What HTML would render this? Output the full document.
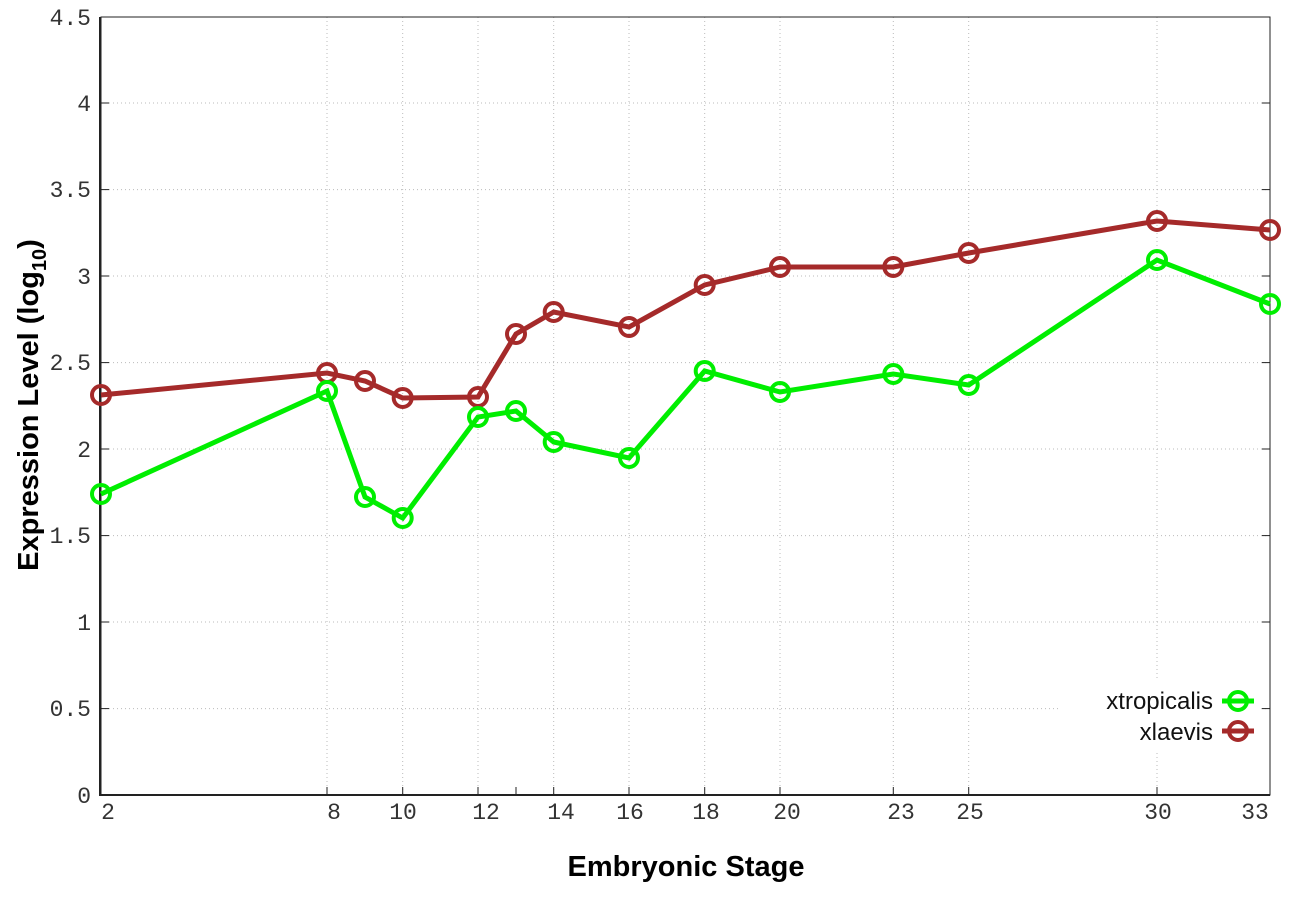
<!DOCTYPE html>
<html><head><style>body{margin:0;background:#fff}svg{display:block}</style></head><body>
<svg width="1296" height="907" xmlns="http://www.w3.org/2000/svg">
<g stroke="#bbb" stroke-width="1" stroke-dasharray="1,3">
<line x1="101" x2="1270" y1="708.6" y2="708.6"/><line x1="101" x2="1270" y1="622" y2="622"/><line x1="101" x2="1270" y1="535.6" y2="535.6"/><line x1="101" x2="1270" y1="449" y2="449"/><line x1="101" x2="1270" y1="362.6" y2="362.6"/><line x1="101" x2="1270" y1="276" y2="276"/><line x1="101" x2="1270" y1="189.6" y2="189.6"/><line x1="101" x2="1270" y1="103" y2="103"/>
<line x1="327" x2="327" y1="17" y2="795"/><line x1="402.7" x2="402.7" y1="17" y2="795"/><line x1="478" x2="478" y1="17" y2="795"/><line x1="553.7" x2="553.7" y1="17" y2="795"/><line x1="629" x2="629" y1="17" y2="795"/><line x1="704.7" x2="704.7" y1="17" y2="795"/><line x1="780" x2="780" y1="17" y2="795"/><line x1="893.3" x2="893.3" y1="17" y2="795"/><line x1="968.7" x2="968.7" y1="17" y2="795"/><line x1="1157" x2="1157" y1="17" y2="795"/>
</g>
<rect x="101" y="17" width="1169" height="778" fill="none" stroke="#222" stroke-width="1"/>
<line x1="100" y1="17" x2="100" y2="796" stroke="#222" stroke-width="2"/>
<line x1="100" y1="795" x2="1270" y2="795" stroke="#222" stroke-width="2"/>
<g stroke="#222" stroke-width="1">
<line x1="327" x2="327" y1="795" y2="787"/><line x1="402.7" x2="402.7" y1="795" y2="787"/><line x1="478" x2="478" y1="795" y2="787"/><line x1="516" x2="516" y1="795" y2="787"/><line x1="553.7" x2="553.7" y1="795" y2="787"/><line x1="629" x2="629" y1="795" y2="787"/><line x1="704.7" x2="704.7" y1="795" y2="787"/><line x1="780" x2="780" y1="795" y2="787"/><line x1="893.3" x2="893.3" y1="795" y2="787"/><line x1="968.7" x2="968.7" y1="795" y2="787"/><line x1="1157" x2="1157" y1="795" y2="787"/>
<line x1="101" x2="109" y1="708.6" y2="708.6"/><line x1="101" x2="109" y1="622" y2="622"/><line x1="101" x2="109" y1="535.6" y2="535.6"/><line x1="101" x2="109" y1="449" y2="449"/><line x1="101" x2="109" y1="362.6" y2="362.6"/><line x1="101" x2="109" y1="276" y2="276"/><line x1="101" x2="109" y1="189.6" y2="189.6"/><line x1="101" x2="109" y1="103" y2="103"/>
<line x1="1262" x2="1270" y1="708.6" y2="708.6"/><line x1="1262" x2="1270" y1="622" y2="622"/><line x1="1262" x2="1270" y1="535.6" y2="535.6"/><line x1="1262" x2="1270" y1="449" y2="449"/><line x1="1262" x2="1270" y1="362.6" y2="362.6"/><line x1="1262" x2="1270" y1="276" y2="276"/><line x1="1262" x2="1270" y1="189.6" y2="189.6"/><line x1="1262" x2="1270" y1="103" y2="103"/>
</g>
<g font-family="Liberation Mono, monospace" font-size="23" fill="#333" text-anchor="end">
<text x="91" y="803">0</text><text x="91" y="716">0.5</text><text x="91" y="630">1</text><text x="91" y="543">1.5</text><text x="91" y="457">2</text><text x="91" y="370">2.5</text><text x="91" y="284">3</text><text x="91" y="197">3.5</text><text x="91" y="111">4</text><text x="91" y="25">4.5</text>
</g>
<g font-family="Liberation Mono, monospace" font-size="23" fill="#333" text-anchor="middle">
<text x="108" y="819">2</text><text x="334" y="819">8</text><text x="403" y="819">10</text><text x="486" y="819">12</text><text x="561" y="819">14</text><text x="630" y="819">16</text><text x="706" y="819">18</text><text x="787" y="819">20</text><text x="901" y="819">23</text><text x="970" y="819">25</text><text x="1158" y="819">30</text><text x="1255" y="819">33</text>
</g>
<text x="686" y="876" font-family="Liberation Sans, sans-serif" font-size="29" font-weight="bold" text-anchor="middle">Embryonic Stage</text>
<text transform="translate(38,405) rotate(-90)" font-family="Liberation Sans, sans-serif" font-size="29" font-weight="bold" text-anchor="middle">Expression Level (log<tspan font-size="20" dy="8">10</tspan><tspan dy="-8">)</tspan></text>
<g fill="none" stroke="#a52a2a" stroke-width="5">
<polyline points="101,395 327,373 365,381 402.7,398 478,397 516,334 553.7,312 629,327 704.7,285 780,267 893.3,267 968.7,253 1157,221 1270,230"/>
<g stroke-width="4"><circle cx="101" cy="395" r="9"/><circle cx="327" cy="373" r="9"/><circle cx="365" cy="381" r="9"/><circle cx="402.7" cy="398" r="9"/><circle cx="478" cy="397" r="9"/><circle cx="516" cy="334" r="9"/><circle cx="553.7" cy="312" r="9"/><circle cx="629" cy="327" r="9"/><circle cx="704.7" cy="285" r="9"/><circle cx="780" cy="267" r="9"/><circle cx="893.3" cy="267" r="9"/><circle cx="968.7" cy="253" r="9"/><circle cx="1157" cy="221" r="9"/><circle cx="1270" cy="230" r="9"/></g>
</g>
<g fill="none" stroke="#00ee00" stroke-width="5">
<polyline points="101,494 327,391 365,497 402.7,518 478,417 516,411 553.7,442 629,458 704.7,371 780,392 893.3,374 968.7,385 1157,260 1270,304"/>
<g stroke-width="4"><circle cx="101" cy="494" r="9"/><circle cx="327" cy="391" r="9"/><circle cx="365" cy="497" r="9"/><circle cx="402.7" cy="518" r="9"/><circle cx="478" cy="417" r="9"/><circle cx="516" cy="411" r="9"/><circle cx="553.7" cy="442" r="9"/><circle cx="629" cy="458" r="9"/><circle cx="704.7" cy="371" r="9"/><circle cx="780" cy="392" r="9"/><circle cx="893.3" cy="374" r="9"/><circle cx="968.7" cy="385" r="9"/><circle cx="1157" cy="260" r="9"/><circle cx="1270" cy="304" r="9"/></g>
</g>
<rect x="1060" y="680" width="200" height="70" fill="#fff"/>
<g font-family="Liberation Sans, sans-serif" font-size="24" fill="#111" text-anchor="end">
<text x="1213" y="709">xtropicalis</text><text x="1213" y="740">xlaevis</text>
</g>
<line x1="1222" x2="1254" y1="701" y2="701" stroke="#00ee00" stroke-width="5"/>
<circle cx="1238" cy="701" r="9" fill="none" stroke="#00ee00" stroke-width="4"/>
<line x1="1222" x2="1254" y1="731" y2="731" stroke="#a52a2a" stroke-width="5"/>
<circle cx="1238" cy="731" r="9" fill="none" stroke="#a52a2a" stroke-width="4"/>
</svg>
</body></html>
